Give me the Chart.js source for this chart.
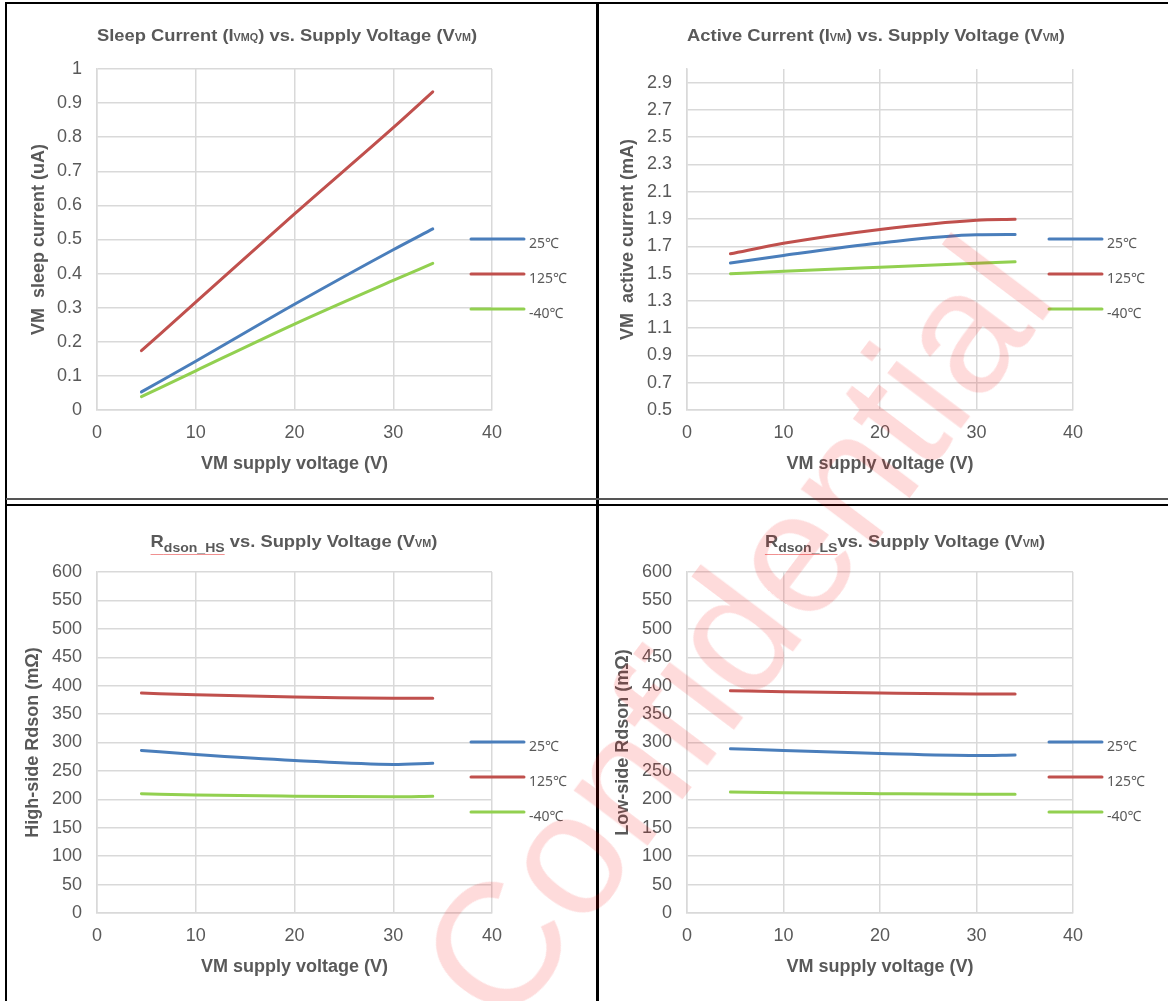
<!DOCTYPE html>
<html>
<head>
<meta charset="utf-8">
<title>VM current and Rdson vs supply voltage</title>
<script src="https://cdn.jsdelivr.net/npm/chart.js@4.4.0/dist/chart.umd.min.js"></script>
<style>
  html, body { margin: 0; padding: 0; background: #fff; }
  body { width: 1168px; height: 1001px; position: relative; overflow: hidden; font-family: "Liberation Sans", Arial, sans-serif; }
  canvas { position: absolute; }
  .rule { position: absolute; background: #000; }
  .ttl { position: absolute; transform: translateX(-50%) scaleX(1.08); white-space: nowrap; font-weight: bold; font-size: 17px; line-height: 20px; color: #595959; }
  .ttl .s { font-size: 10px; }
  .ttl sub { font-size: 13px; line-height: 0; vertical-align: -5px; }
  .ttl .u { text-decoration: underline; text-decoration-color: #f09090; text-decoration-thickness: 1px; text-underline-offset: 7px; }
  .wm { position: absolute; left: 735px; top: 630px; transform: translate(-50%, -50%) rotate(-53deg); font-size: 174px; line-height: 1; white-space: nowrap; color: rgba(245, 0, 0, 0.14); pointer-events: none; }
</style>
</head>
<body>

<!-- table borders -->
<div class="rule" style="left:6px; top:2px; width:1162px; height:2px;"></div>
<div class="rule" style="left:5px; top:2px; width:2px; height:999px;"></div>
<div class="rule" style="left:596px; top:2px; width:3px; height:999px;"></div>
<div class="rule" style="left:6px; top:498px; width:1162px; height:2px; background:#555;"></div>
<div class="rule" style="left:6px; top:504px; width:1162px; height:2px;"></div>

<canvas id="sleepChart" width="588" height="494" style="left:8px; top:4px;"></canvas>
<canvas id="activeChart" width="568" height="494" style="left:600px; top:4px;"></canvas>
<canvas id="hsChart" width="588" height="495" style="left:8px; top:506px;"></canvas>
<canvas id="lsChart" width="568" height="495" style="left:600px; top:506px;"></canvas>

<div class="ttl" style="left:287px; top:26px;">Sleep Current (I<span class="s">VMQ</span>) vs. Supply Voltage (V<span class="s">VM</span>)</div>
<div class="ttl" style="left:876px; top:26px;">Active Current (I<span class="s">VM</span>) vs. Supply Voltage (V<span class="s">VM</span>)</div>
<div class="ttl" style="left:294px; top:532px;"><span class="u">R<sub>dson_HS</sub></span> vs. Supply Voltage (V<span class="s">VM</span>)</div>
<div class="ttl" style="left:905px; top:532px;"><span class="u">R<sub>dson_LS</sub></span>vs. Supply Voltage (V<span class="s">VM</span>)</div>

<div class="wm">Confidential</div>

<script>
// supply voltage sweep (V)
const voltage = [4.5, 10, 20, 30, 34];
const seriesLabels = ['25℃', '125℃', '-40℃'];
const seriesColors = ['#4a7ebb', '#c0504d', '#92d050'];

// sleep current (uA)
const sleep25 = [0.053, 0.143, 0.31, 0.47, 0.531];
const sleep125 = [0.174, 0.316, 0.575, 0.828, 0.933];
const sleepM40 = [0.039, 0.115, 0.252, 0.38, 0.43];

// active current (mA)
const active25 = [1.577, 1.633, 1.724, 1.785, 1.787];
const active125 = [1.645, 1.722, 1.824, 1.892, 1.898];
const activeM40 = [1.499, 1.517, 1.547, 1.576, 1.587];

// high-side Rdson (mOhm)
const hs25 = [286, 279, 268.5, 261.5, 263.5];
const hs125 = [387, 384, 380, 378, 378];
const hsM40 = [210, 207.5, 205.5, 204.5, 205.5];

// low-side Rdson (mOhm)
const ls25 = [289, 286, 280.5, 277, 278];
const ls125 = [391, 389.5, 387, 385.5, 385.5];
const lsM40 = [213, 211.5, 210, 209, 209];

// tick values
const xTicks = [0, 10, 20, 30, 40];
const sleepTicks = [0, 0.1, 0.2, 0.3, 0.4, 0.5, 0.6, 0.7, 0.8, 0.9, 1];
const activeTicks = [0.5, 0.7, 0.9, 1.1, 1.3, 1.5, 1.7, 1.9, 2.1, 2.3, 2.5, 2.7, 2.9];
const rdsonTicks = [0, 50, 100, 150, 200, 250, 300, 350, 400, 450, 500, 550, 600];

Chart.defaults.font.family = '"Liberation Sans", Arial, sans-serif';
Chart.defaults.color = '#595959';

// legend drawn to the right of the plot, overlapping the last grid column
const sideLegend = {
  id: 'sideLegend',
  afterDraw(chart, args, opts) {
    const { ctx, chartArea } = chart;
    const x0 = chartArea.right - opts.inset;
    chart.data.datasets.forEach((ds, i) => {
      const y = chartArea.top + opts.rows[i];
      ctx.save();
      ctx.strokeStyle = ds.borderColor;
      ctx.lineWidth = 3;
      ctx.lineCap = 'round';
      ctx.beginPath();
      ctx.moveTo(x0, y);
      ctx.lineTo(x0 + 53, y);
      ctx.stroke();
      ctx.fillStyle = '#595959';
      ctx.font = '14px "Noto Sans", "Noto Sans CJK SC", sans-serif';
      ctx.textBaseline = 'middle';
      ctx.fillText(ds.label, x0 + 58, y + 5);
      ctx.restore();
    });
  }
};

function toPoints(values) {
  return voltage.map((v, i) => ({ x: v, y: values[i] }));
}

function makeChart(id, series, yTicks, yMin, yMax, yTitle, layout) {
  const ctx = document.getElementById(id).getContext('2d');
  return new Chart(ctx, {
    type: 'line',
    data: {
      datasets: series.map((values, i) => ({
        label: seriesLabels[i],
        data: toPoints(values),
        borderColor: seriesColors[i],
        backgroundColor: seriesColors[i],
        borderWidth: 3,
        borderCapStyle: 'round',
        pointRadius: 0,
        cubicInterpolationMode: 'monotone',
        fill: false
      }))
    },
    options: {
      responsive: false,
      animation: false,
      devicePixelRatio: 1,
      layout: { padding: { top: layout.top, right: layout.right, bottom: 0, left: 0 } },
      plugins: {
        legend: { display: false },
        tooltip: { enabled: false },
        sideLegend: { inset: layout.inset, rows: [170, 205, 240] }
      },
      scales: {
        x: {
          type: 'linear',
          min: xTicks[0],
          max: xTicks[xTicks.length - 1],
          afterBuildTicks: s => { s.ticks = xTicks.map(v => ({ value: v })); },
          afterFit: s => { s.height = 88; },
          grid: { color: '#d9d9d9', lineWidth: 1.5, drawTicks: false },
          border: { color: '#d9d9d9', width: 1.5 },
          ticks: { padding: 12, font: { size: 18 }, color: '#595959' },
          title: {
            display: true,
            text: 'VM supply voltage (V)',
            font: { size: 18, weight: 'bold' },
            color: '#595959',
            padding: { top: 0, bottom: 23 }
          }
        },
        y: {
          min: yMin,
          max: yMax,
          afterBuildTicks: s => { s.ticks = yTicks.map(v => ({ value: v })); },
          afterFit: s => { s.width = layout.left; },
          grid: { color: '#d9d9d9', lineWidth: 1.5, drawTicks: false },
          border: { color: '#d9d9d9', width: 1.5 },
          ticks: {
            padding: 15,
            font: { size: 18 },
            color: '#595959',
            callback: v => String(Math.round(v * 100) / 100)
          },
          title: {
            display: true,
            text: yTitle,
            font: { size: 18, weight: 'bold' },
            color: '#595959',
            padding: { top: layout.yTitle, bottom: 0 }
          }
        }
      }
    },
    plugins: [sideLegend]
  });
}

makeChart('sleepChart', [sleep25, sleep125, sleepM40], sleepTicks, 0, 1,
  'VM  sleep current (uA)', { top: 65, right: 104, left: 89, inset: 21, yTitle: 20 });
makeChart('activeChart', [active25, active125, activeM40], activeTicks, 0.5, 3.0,
  'VM  active current (mA)', { top: 65, right: 95, left: 87, inset: 24, yTitle: 17 });
makeChart('hsChart', [hs25, hs125, hsM40], rdsonTicks, 0, 600,
  'High-side Rdson (mΩ)', { top: 66, right: 104, left: 89, inset: 21, yTitle: 14 });
makeChart('lsChart', [ls25, ls125, lsM40], rdsonTicks, 0, 600,
  'Low-side Rdson (mΩ)', { top: 66, right: 95, left: 87, inset: 24, yTitle: 12 });
</script>
</body>
</html>
